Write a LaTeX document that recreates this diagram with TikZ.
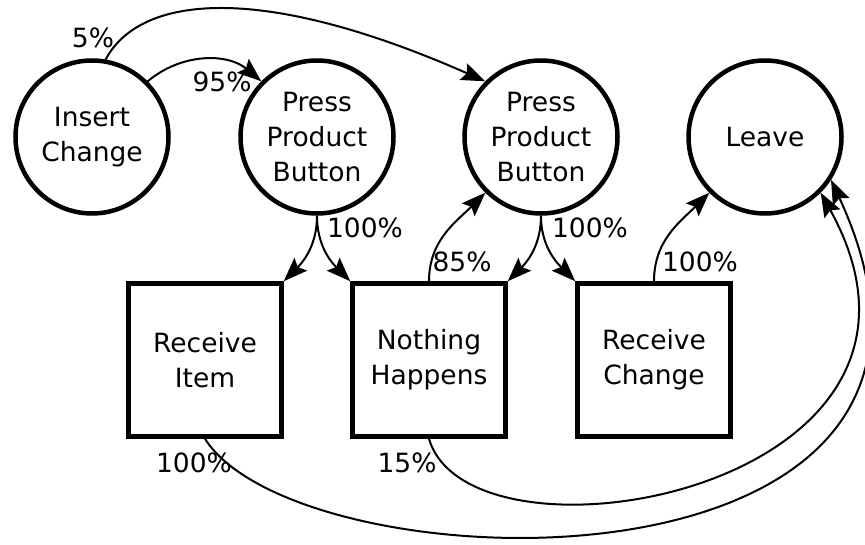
\documentclass[tikz,border=0pt]{standalone}
\usepackage{fontspec}
\setmainfont{DejaVu Sans}
\usetikzlibrary{arrows.meta}

\begin{document}
\begin{tikzpicture}[x=1pt,y=1pt,
		act/.style={draw,circle,line width=4.5pt,minimum size=153pt,inner sep=0pt,align=center},
		res/.style={draw,rectangle,line width=4.5pt,minimum size=153pt,inner sep=0pt,align=center},
		lbl/.style={inner sep=0pt},
		flow/.style={line width=2pt,-{Stealth[length=24pt,width=18pt,inset=4pt]}},
		every node/.style={font=\fontsize{26.5}{35}\selectfont}]
			\useasboundingbox (0,0) rectangle (865,544);
			\node[act] (IC)at(92,407) {Insert\\Change};
			\node[act] (P1)at(317,407) {Press\\Product\\Button};
			\node[act] (P2)at(541,407) {Press\\Product\\Button};
			\node[act] (LV)at(765,407) {Leave};
			\node[res] (RI)at(205,184) {Receive\\Item};
			\node[res] (NH)at(429,184) {Nothing\\Happens};
			\node[res] (RC)at(654,184) {Receive\\Change};
			\node[lbl] (l5)at(93,506) {5\%};
			\node[lbl] (l95)at(222,462) {95\%};
			\node[lbl] (l100a)at(365,316) {100\%};
			\node[lbl] (l85)at(462,282) {85\%};
			\node[lbl] (l100b)at(590,316) {100\%};
			\node[lbl] (l100c)at(700,282) {100\%};
			\node[lbl] (l100d)at(194,81) {100\%};
			\node[lbl] (l15)at(407,81) {15\%};
			\draw[flow] (IC.45) to[bend left=40] (P1.135);
			\draw[flow] (IC.80) .. controls (140,549) and (260,562) .. (P2.135);
			\draw[flow] (P1.south) to[out=-90,in=45] (RI.north east);
			\draw[flow] (P1.south) to[out=-90,in=135] (NH.north west);
			\draw[flow] (NH.north) to[out=90,in=225] (P2.225);
			\draw[flow] (P2.south) to[out=-90,in=45] (NH.north east);
			\draw[flow] (P2.south) to[out=-90,in=135] (RC.north west);
			\draw[flow] (RC.north) to[out=90,in=225] (LV.225);
			\draw[flow] (NH.south) .. controls (470,-36) and (985,54) .. (LV.-45);
			\draw[flow] (RI.south) .. controls (300,-46) and (1030,-66) .. (LV.-33);
		\end{tikzpicture}
\end{document}
